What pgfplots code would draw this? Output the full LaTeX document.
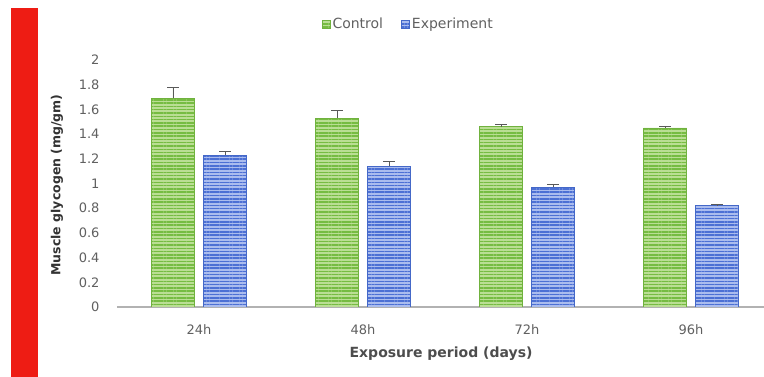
\documentclass[border=0pt]{standalone}
\usepackage{pgfplots}
\pgfplotsset{compat=1.18}
\usepackage{fontspec}
\setmainfont{DejaVu Sans}
\usetikzlibrary{patterns.meta}
\definecolor{glight}{RGB}{186,222,148}
\definecolor{gdark}{RGB}{118,188,66}
\definecolor{gborder}{RGB}{112,178,62}
\definecolor{blight}{RGB}{170,188,238}
\definecolor{bdark}{RGB}{76,112,212}
\definecolor{bborder}{RGB}{68,104,200}
\definecolor{txtgray}{RGB}{96,96,96}
\definecolor{redbar}{RGB}{238,28,20}
\begin{document}
\begin{tikzpicture}[x=1pt,y=1pt]
\useasboundingbox (0,0) rectangle (764,377);
\fill[redbar] (11,0) rectangle (38,369);
\begin{axis}[
  at={(117pt,70pt)}, anchor=south west,
  scale only axis, width=656pt, height=247pt,
  ybar=9pt, bar width=43pt,
  xmin=-0.5, xmax=3.5, ymin=0, ymax=2,
  xtick={0,1,2,3}, xticklabels={24h,48h,72h,96h},
  ytick={0,0.2,...,2.01},
  yticklabel style={/pgf/number format/fixed,/pgf/number format/precision=1},
  /pgf/number format/assume math mode=true,
  tick label style={font=\fontsize{13}{15}\selectfont, text=txtgray},
  yticklabel style={xshift=-14pt},
  xticklabel style={yshift=-14pt},
  major tick length=0pt,
  axis y line*=left,
  y axis line style={draw=none},
  axis x line*=bottom,
  x axis line style={draw=gray!60, line width=1.5pt, -},
  xlabel={Exposure period (days)},
  ylabel={Muscle glycogen (mg/gm)},
  every axis x label/.style={at={(axis description cs:0.494,-0.19)}, anchor=center, font=\bfseries\fontsize{14}{16}\selectfont, text=txtgray!80!black},
  every axis y label/.style={at={(axis description cs:-0.0915,0.494)}, rotate=90, anchor=center, font=\bfseries\fontsize{12.5}{14}\selectfont, text=black!80},
  legend style={at={(axis description cs:0.444,1.146)}, anchor=center, draw=none, fill=none,
    legend columns=2, font=\fontsize{14}{16}\selectfont, text=txtgray,
    /tikz/every even column/.append style={column sep=16pt}},
  legend image code/.code={\fill[#1] (0pt,-4pt) rectangle (8pt,4pt);},
  error bars/y dir=plus, error bars/y explicit,
  error bars/error bar style={draw=black!65, line width=0.9pt},
  error bars/error mark options={rotate=90, mark size=6pt, draw=black!65, line width=0.9pt},
]
\addplot[fill=glight, draw=gborder, line width=0.8pt,
  postaction={pattern={Lines[angle=0,distance=3.3pt,line width=1.5pt]}, pattern color=gdark}]
  coordinates {(0,1.69) +- (0,0.09) (1,1.53) +- (0,0.06) (2,1.46) +- (0,0.02) (3,1.45) +- (0,0.01)};
\addplot[fill=blight, draw=bborder, line width=0.8pt,
  postaction={pattern={Lines[angle=0,distance=3.3pt,line width=1.5pt]}, pattern color=bdark}]
  coordinates {(0,1.23) +- (0,0.03) (1,1.14) +- (0,0.035) (2,0.97) +- (0,0.02) (3,0.82) +- (0,0.01)};
\legend{Control,Experiment}
\end{axis}
\end{tikzpicture}
\end{document}
